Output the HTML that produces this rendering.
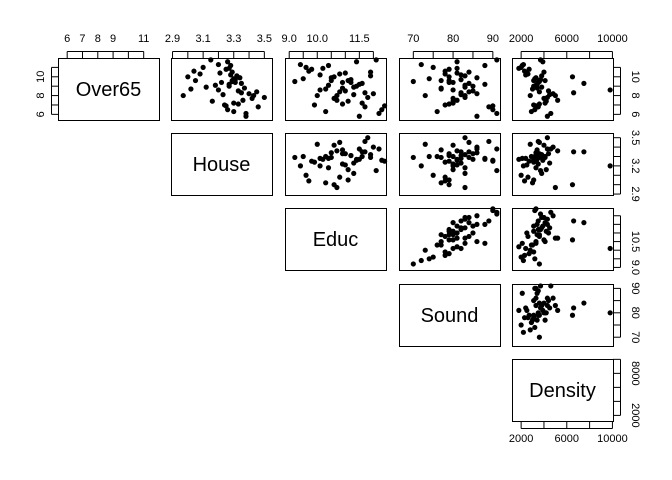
<!DOCTYPE html>
<html><head><meta charset="utf-8"><style>
html,body{margin:0;padding:0;background:#fff;}
svg{display:block;font-family:"Liberation Sans",Arial,sans-serif;}
</style></head><body>
<svg id="chart" width="672" height="480" viewBox="0 0 672 480" xmlns="http://www.w3.org/2000/svg"></svg>
<script>
const varNames = ["Over65","House","Educ","Sound","Density"];
const over65  = [10.2,9.6,8.4,7.2,11.3,9.9,8.9,6.1,10.8,9.4,7.8,8.7,11.0,9.2,7.5,10.5,6.5,8.0,9.7,10.0,8.5,7.0,11.6,9.1,8.2,10.3,6.8,9.5,7.4,10.9,8.8,9.3,6.3,11.8,8.1,9.8,7.7,10.1,8.6,9.0,7.1,10.6,8.3,9.6,6.9,10.4,8.0,9.4,5.8,11.2];
const house   = [3.28,3.05,3.45,3.30,3.20,3.34,3.12,3.38,3.25,3.22,3.50,3.02,3.10,3.27,3.36,3.29,3.26,3.43,3.31,3.00,3.33,3.24,3.26,3.18,3.40,3.08,3.46,3.29,3.16,3.27,3.37,3.35,3.30,3.15,3.23,3.30,3.42,3.32,3.20,3.27,3.33,3.04,3.35,3.29,3.25,3.21,2.97,3.31,3.38,3.28];
const educ    = [10.1,11.1,10.8,11.6,9.4,10.5,11.3,12.2,9.8,10.9,11.8,10.3,9.6,11.5,10.7,11.9,12.3,10.0,11.2,10.6,11.0,9.9,11.4,10.4,12.0,10.8,11.7,9.2,11.1,10.2,10.9,11.6,10.3,12.1,11.3,9.5,10.6,11.9,10.1,11.4,10.9,9.7,11.7,10.5,12.4,11.0,10.7,11.2,11.5,10.4];
const sound   = [82,79,84,80,72,86,83,91,79,80,83,77,75,88,81,84,90,73,82,79,85,78,81,83,86,78,89,70,80,81,77,84,76,91,82,74,80,83,80,85,79,78,82,77,90,81,83,79,86,88];
const density = [2400,3100,3600,4100,2200,3300,3800,4600,2700,3500,4300,3000,2000,3400,5200,4000,3200,2800,3700,6500,4400,3100,3900,3300,4800,2600,3500,3600,4200,1800,3400,7500,2900,3700,4500,3200,4000,3800,9800,3100,3600,2300,6600,4100,3300,2500,5000,3500,4300,2100];
const series = [over65, house, educ, sound, density];
const domains = [[5.4,12.0],[2.89,3.55],[8.85,12.45],[66.4,91.8],[1200,10050]];
const tickVals = [[6,7,8,9,10,11],[2.9,3.0,3.1,3.2,3.3,3.4,3.5],[9,9.5,10,10.5,11,11.5,12],[70,75,80,85,90],[2000,4000,6000,8000,10000]];
const topLabels = [["6","7","8","9","","11"],["2.9","","3.1","","3.3","","3.5"],["9.0","","10.0","","","11.5",""],["70","","80","","90"],["2000","","6000","","10000"]];
const sideLabels = [["6","","8","","10",""],["2.9","","","3.2","","","3.5"],["9.0","","","10.5","","",""],["70","","80","","90"],["2000","","","8000",""]];

const svg = document.getElementById('chart');
const NS = "http://www.w3.org/2000/svg";
const colX = [[58,159],[171,272],[285,386],[399,500],[512,613]];
const rowY = [[58,120],[133,195],[208,270],[284,346],[359,421]];
function xScale(v,val){const d=domains[v];return colX[v][0]+(val-d[0])/(d[1]-d[0])*(colX[v][1]-colX[v][0]);}
function yScale(v,val){const d=domains[v];return rowY[v][1]-(val-d[0])/(d[1]-d[0])*(rowY[v][1]-rowY[v][0]);}
function mk(tag,attrs){const e=document.createElementNS(NS,tag);for(const k in attrs)e.setAttribute(k,attrs[k]);svg.appendChild(e);return e;}

for(let r=0;r<5;r++){
  for(let c=r;c<5;c++){
    const rect=mk('rect',{x:colX[c][0]+0.5,y:rowY[r][0]+0.5,width:colX[c][1]-colX[c][0],height:rowY[r][1]-rowY[r][0],fill:'none',stroke:'#000','stroke-width':1});
    
    
    if(r===c){
      const t=mk('text',{x:(colX[c][0]+colX[c][1])/2,y:(rowY[r][0]+rowY[r][1])/2+7,'text-anchor':'middle','font-size':20});
      t.textContent=varNames[r];
      
      
    } else {
      for(let i=0;i<series[r].length;i++){
        const p=mk('circle',{cx:xScale(c,series[c][i]),cy:yScale(r,series[r][i]),r:2.6,fill:'#000'});
        
        
      }
    }
  }
}
for(let c=0;c<5;c++){
  const ax=xScale(c,tickVals[c][0]), bx=xScale(c,tickVals[c][tickVals[c].length-1]);
  const ln=mk('line',{x1:ax,x2:bx,y1:51.5,y2:51.5,stroke:'#000'});
  
  
  tickVals[c].forEach((v,i)=>{
    const x=xScale(c,v);
    mk('line',{x1:x,x2:x,y1:51.5,y2:58,stroke:'#000'});
    if(topLabels[c][i]){const t=mk('text',{x:x,y:42,'text-anchor':'middle','font-size':11});t.textContent=topLabels[c][i];
      
      }
  });
}
{
  const c=4;
  mk('line',{x1:xScale(c,2000),x2:xScale(c,10000),y1:428.5,y2:428.5,stroke:'#000'});
  tickVals[c].forEach((v,i)=>{const x=xScale(c,v);mk('line',{x1:x,x2:x,y1:421,y2:428.5,stroke:'#000'});
    if(topLabels[c][i]){const t=mk('text',{x:x,y:442,'text-anchor':'middle','font-size':11});t.textContent=topLabels[c][i];
      
      }});
}
for(let r=0;r<5;r++){
  const ay=yScale(r,tickVals[r][0]), by=yScale(r,tickVals[r][tickVals[r].length-1]);
  const ln=mk('line',{x1:620.5,x2:620.5,y1:ay,y2:by,stroke:'#000'});
  
  
  tickVals[r].forEach((v,i)=>{const y=yScale(r,v);mk('line',{x1:613,x2:620.5,y1:y,y2:y,stroke:'#000'});
    if(sideLabels[r][i]){const t=mk('text',{x:0,y:0,'text-anchor':'middle','font-size':11,transform:'translate(632,'+y+') rotate(90)'});t.textContent=sideLabels[r][i];
      
      }});
}
{
  const r=0;
  mk('line',{x1:51.5,x2:51.5,y1:yScale(0,6),y2:yScale(0,11),stroke:'#000'});
  tickVals[r].forEach((v,i)=>{const y=yScale(r,v);mk('line',{x1:51.5,x2:58,y1:y,y2:y,stroke:'#000'});
    if(sideLabels[r][i]){const t=mk('text',{x:0,y:0,'text-anchor':'middle','font-size':11,transform:'translate(44,'+y+') rotate(-90)'});t.textContent=sideLabels[r][i];
      
      }});
}
</script>
</body></html>
